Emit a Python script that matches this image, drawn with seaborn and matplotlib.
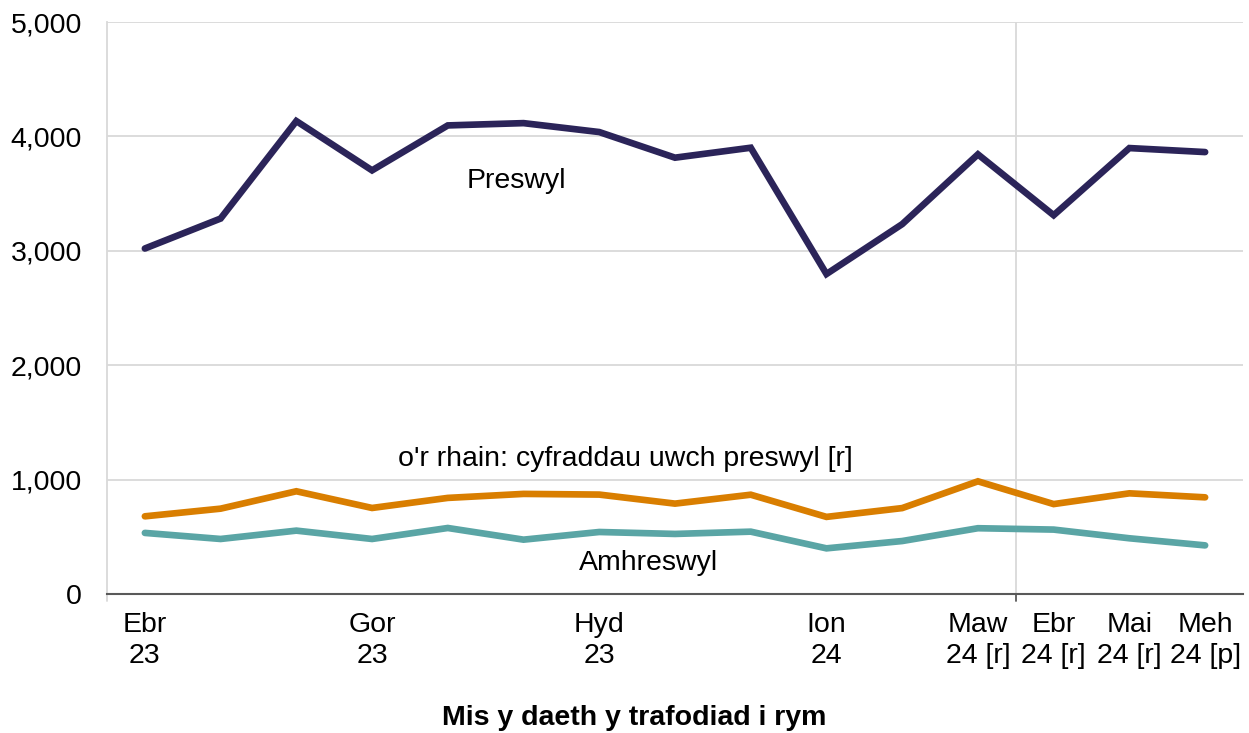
import matplotlib
matplotlib.use("Agg")
import matplotlib.pyplot as plt
import seaborn as sns
import pandas as pd
import numpy as np

months = ["Ebr 23", "Mai 23", "Meh 23", "Gor 23", "Aws 23", "Med 23", "Hyd 23",
          "Tach 23", "Rhag 23", "Ion 24", "Chw 24", "Maw 24", "Ebr 24", "Mai 24", "Meh 24"]
preswyl = [3020, 3282, 4134, 3703, 4096, 4116, 4038, 3814, 3901, 2797, 3233, 3843, 3311, 3898, 3863]
uwch = [679, 746, 898, 752, 840, 875, 869, 790, 868, 674, 751, 985, 786, 880, 845]
amhreswyl = [534, 481, 554, 481, 577, 475, 542, 525, 545, 399, 463, 575, 563, 487, 425]

tick_pos = [0, 3, 6, 9, 11, 12, 13, 14]
tick_labels = ["Ebr\n23", "Gor\n23", "Hyd\n23", "Ion\n24", "Maw\n24 [r]", "Ebr\n24 [r]", "Mai\n24 [r]", "Meh\n24 [p]"]
yticks = [0, 1000, 2000, 3000, 4000, 5000]

names = ["Preswyl", "o'r rhain: cyfraddau uwch preswyl [r]", "Amhreswyl"]
colors = ["#2b2459", "#d97e00", "#5aa5a5"]

idx = np.arange(len(months))
df = pd.concat([
    pd.DataFrame({"x": idx, "value": preswyl, "series": names[0]}),
    pd.DataFrame({"x": idx, "value": uwch, "series": names[1]}),
    pd.DataFrame({"x": idx, "value": amhreswyl, "series": names[2]}),
])

sns.set_style("white")
plt.rcParams["font.family"] = ["Liberation Sans", "DejaVu Sans"]
plt.rcParams["text.color"] = "black"
plt.rcParams["xtick.color"] = "black"
plt.rcParams["ytick.color"] = "black"

FS = 20.5

fig = plt.figure(figsize=(12.49, 7.33), dpi=100)
ax = fig.add_axes([107 / 1249, 1 - 594 / 733, (1243 - 107) / 1249, (594 - 22) / 733])

ax.set_xlim(-0.5, 14.5)
ax.set_ylim(0, 5000)
for y in yticks[1:]:
    ax.axhline(y, color="#d9d9d9", lw=1.3, zorder=0)
ax.axvline(11.5, color="#d9d9d9", lw=1.3, zorder=0)

sns.lineplot(data=df, x="x", y="value", hue="series", palette=dict(zip(names, colors)),
             linewidth=4.8, legend=False, ax=ax, solid_capstyle="round", solid_joinstyle="miter")

ax.set_xticks(tick_pos)
ax.set_xticklabels(tick_labels, fontsize=FS, linespacing=1.25)
ax.tick_params(axis="x", length=0, pad=13)
ax.set_yticks(yticks)
ax.set_yticklabels([f"{v:,}" for v in yticks], fontsize=FS)
ax.tick_params(axis="y", length=0, pad=18)
ax.plot([11.5, 11.5], [0, -60], color="#595959", lw=1.3, clip_on=False)
ax.plot([-0.5, -0.5], [0, -60], color="#d9d9d9", lw=1.3, clip_on=False)

for s in ["top", "right"]:
    ax.spines[s].set_visible(False)
ax.spines["left"].set_color("#d9d9d9")
ax.spines["left"].set_linewidth(1.3)
ax.spines["bottom"].set_color("#595959")
ax.spines["bottom"].set_linewidth(1.5)
ax.set_xlabel("")
ax.set_ylabel("")

ax.text(4.9, 3610, "Preswyl", fontsize=FS, ha="center", va="center")
ax.text(6.35, 1180, "o'r rhain: cyfraddau uwch preswyl [r]", fontsize=FS, ha="center", va="center")
ax.text(6.65, 271, "Amhreswyl", fontsize=FS, ha="center", va="center")

fig.text(634 / 1249, 1 - 718 / 733, "Mis y daeth y trafodiad i rym", fontsize=FS,
         fontweight="bold", ha="center", va="center")

fig.savefig("out.png", dpi=100)
